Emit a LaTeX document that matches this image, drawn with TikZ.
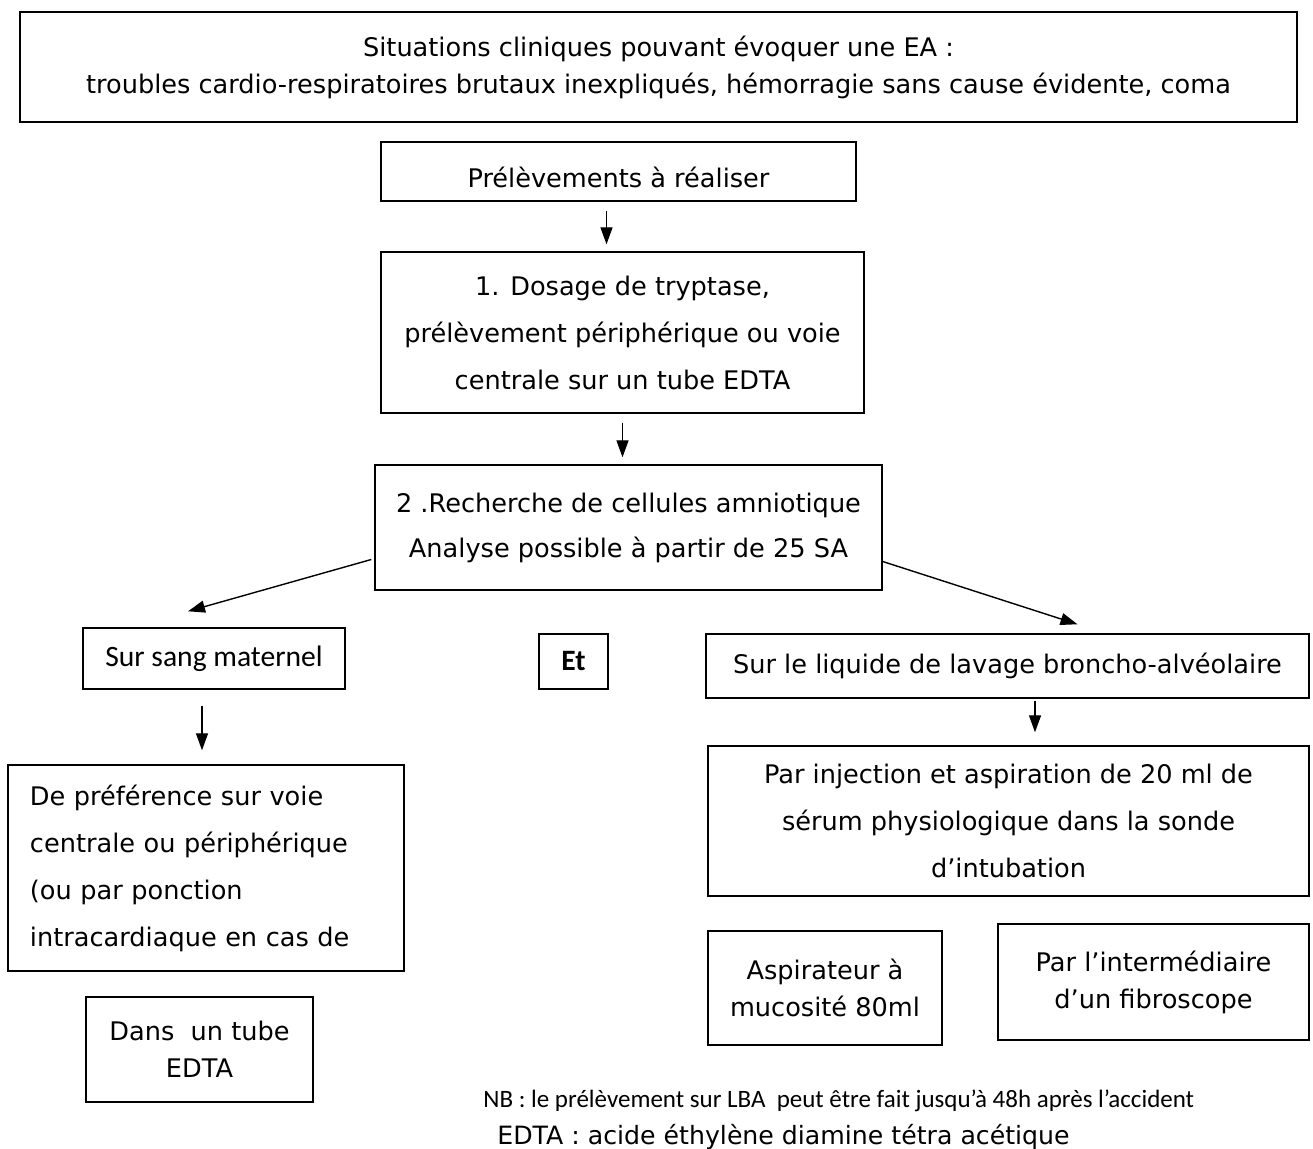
\documentclass[tikz,border=0pt]{standalone}
\usepackage{fontspec}
\setmainfont{DejaVu Sans}
\newfontfamily\calib{Carlito}
\usetikzlibrary{arrows.meta}

\tikzset{
  boite/.style={draw, line width=0.7pt, inner sep=0pt, align=center},
  serre/.style={font=\fontsize{12.8}{18.5}\selectfont},
  large/.style={font=\fontsize{12.8}{23.5}\selectfont},
  fleche/.style={-{Triangle[length=8.5pt,width=6pt]}, line width=0.7pt},
}

\begin{document}
\begin{tikzpicture}[x=0.5pt, y=-0.5pt]
\useasboundingbox (0,0) rectangle (1313,1149);
\node[boite, serre, minimum width=638.5pt, minimum height=55pt](clin) at (658.5,67) {Situations cliniques pouvant évoquer une EA :\\troubles cardio-respiratoires brutaux inexpliqués, hémorragie sans cause évidente, coma};
\node[boite, serre, minimum width=237.5pt, minimum height=29.5pt](prel) at (618.5,171.5) {\raisebox{-8pt}[0pt][0pt]{Prélèvements à réaliser}};
\node[boite, large, minimum width=241.5pt, minimum height=80.5pt](dosage) at (622.5,332.5) {1. Dosage de tryptase,\\prélèvement périphérique ou voie\\centrale sur un tube EDTA};
\node[boite, font=\fontsize{12.8}{22.5}\selectfont, minimum width=253.5pt, minimum height=62.5pt](amnio) at (628.5,527.5) {2 .Recherche de cellules amniotique\\Analyse possible à partir de 25 SA};
\node[boite, font=\calib\fontsize{14.8}{16}\selectfont, minimum width=131pt, minimum height=30.5pt](sang) at (214,658.5) {Sur sang maternel};
\node[boite, font=\calib\bfseries\fontsize{14.8}{16}\selectfont, minimum width=34.5pt, minimum height=27.5pt](et) at (573.5,661.5) {Et};
\node[boite, serre, minimum width=301.5pt, minimum height=32pt](liquide) at (1007.5,666) {Sur le liquide de lavage broncho-alvéolaire};
\node[boite, large, minimum width=300.5pt, minimum height=75pt](injection) at (1008.5,821) {Par injection et aspiration de 20 ml de\\sérum physiologique dans la sonde\\d’intubation};
\node[boite, large, align=left, inner xsep=11pt, text width=176pt, minimum height=103pt](preference) at (206,868) {De préférence sur voie\\centrale ou périphérique\\(ou par ponction\\intracardiaque en cas de};
\node[boite, serre, minimum width=113.5pt, minimum height=52.5pt](tube) at (199.5,1049.5) {Dans\ \ un tube\\EDTA};
\node[boite, serre, minimum width=117pt, minimum height=57pt](aspirateur) at (825,988) {Aspirateur à\\mucosité 80ml};
\node[boite, serre, minimum width=155.5pt, minimum height=58pt](fibro) at (1153.5,982) {Par l’intermédiaire\\d’un fibroscope};
%
\node[anchor=west, inner sep=0pt, font=\calib\fontsize{12.5}{14}\selectfont](nb) at (483,1101) {NB : le prélèvement sur LBA\ \ peut être fait jusqu’à 48h après l’accident};
\node[anchor=west, inner sep=0pt, font=\fontsize{12.6}{14}\selectfont](edta) at (497,1137) {EDTA : acide éthylène diamine tétra acétique};
%
\draw[fleche, shorten <=4.5pt, shorten >=3.5pt] ([xshift=-6pt]prel.south) -- ([xshift=-6pt]prel.south |- dosage.north);
\draw[fleche, shorten <=4.5pt, shorten >=3.5pt] (dosage.south) -- (dosage.south |- amnio.north);
\draw[fleche] ([xshift=-1.5pt,yshift=-16pt]amnio.west) -- ([xshift=-13pt,yshift=8pt]sang.north);
\draw[fleche] ([yshift=-17pt]amnio.east) -- ([xshift=35pt,yshift=4.5pt]liquide.north);
\draw[fleche, shorten <=8pt, shorten >=7pt] ([xshift=-6pt]sang.south) -- ([xshift=-6pt]sang.south |- preference.north);
\draw[fleche, shorten <=1pt, shorten >=6.5pt] ([xshift=13.75pt]liquide.south) -- ([xshift=13.75pt]liquide.south |- injection.north);
\end{tikzpicture}
\end{document}
